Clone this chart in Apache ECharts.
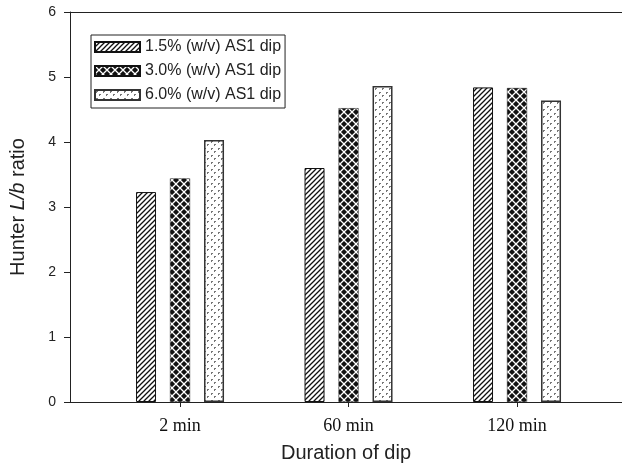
<!DOCTYPE html>
<html>
<head>
<meta charset="utf-8">
<script src="https://cdn.jsdelivr.net/npm/echarts@6/dist/echarts.min.js"></script>
<style>
  html, body { margin: 0; padding: 0; background: #fff; }
  #chart { width: 622px; height: 472px; }
</style>
</head>
<body>
<div id="chart"></div>
<script>
// duration categories sit at x = 0, 1, 2 on a value axis
const categories = ['2 min', '60 min', '120 min']
const seriesNames = ['1.5% (w/v) AS1 dip', '3.0% (w/v) AS1 dip', '6.0% (w/v) AS1 dip']
const dip15 = [3.23, 3.6, 4.84]
const dip30 = [3.44, 4.52, 4.83]
const dip60 = [4.03, 4.86, 4.64]
const yTicks = [0, 1, 2, 3, 4, 5, 6]

function makeTile(size, draw) {
  const c = document.createElement('canvas')
  c.width = size
  c.height = size
  draw(c.getContext('2d'), size)
  return { image: c, repeat: 'repeat' }
}

// diagonal hatching
const hatch = makeTile(5, (ctx, s) => {
  ctx.fillStyle = '#fff'
  ctx.fillRect(0, 0, s, s)
  ctx.strokeStyle = '#111'
  ctx.lineWidth = 1.3
  ctx.beginPath()
  ctx.moveTo(-1, s + 1); ctx.lineTo(s + 1, -1)
  ctx.moveTo(-1, 1); ctx.lineTo(1, -1)
  ctx.moveTo(s - 1, s + 1); ctx.lineTo(s + 1, s - 1)
  ctx.stroke()
})

// black with white cross lines
const cross = makeTile(8, (ctx, s) => {
  ctx.fillStyle = '#111'
  ctx.fillRect(0, 0, s, s)
  ctx.strokeStyle = '#fff'
  ctx.lineWidth = 1.3
  ctx.beginPath()
  ctx.moveTo(0, 0); ctx.lineTo(s, s)
  ctx.moveTo(s, 0); ctx.lineTo(0, s)
  ctx.stroke()
})

// sparse grey specks
const dots = makeTile(7, (ctx, s) => {
  ctx.fillStyle = '#fff'
  ctx.fillRect(0, 0, s, s)
  ctx.fillStyle = '#777'
  ctx.fillRect(1, 1, 1, 2)
  ctx.fillRect(2, 1, 1, 1)
  ctx.fillRect(4, 4, 1, 2)
  ctx.fillRect(5, 4, 1, 1)
})

const chart = echarts.init(document.getElementById('chart'))

function pairs(vals) {
  return vals.map((v, i) => [i, v])
}

chart.setOption({
  animation: false,
  backgroundColor: '#fff',
  grid: { left: 70, right: 0, top: 12, bottom: 70 },
  legend: {
    orient: 'vertical',
    left: 91,
    top: 35,
    data: seriesNames,
    icon: 'rect',
    itemWidth: 45,
    itemHeight: 10,
    itemGap: 8,
    padding: [4, 4, 5, 3],
    borderColor: '#222',
    borderWidth: 1,
    textStyle: { fontFamily: 'Liberation Sans', fontSize: 16, color: '#222' }
  },
  xAxis: [{
    type: 'value',
    min: -0.653,
    max: 2.623,
    splitLine: { show: false },
    axisLine: { onZero: false, lineStyle: { color: '#222', width: 1 } },
    axisTick: { length: 5, customValues: [0, 1, 2], lineStyle: { color: '#222' } },
    axisLabel: {
      customValues: [0, 1, 2],
      margin: 15,
      fontFamily: 'Liberation Serif',
      fontSize: 18,
      color: '#111',
      formatter: v => categories[Math.round(v)]
    },
    name: 'Duration of dip',
    nameLocation: 'middle',
    nameGap: 41,
    nameTextStyle: { fontFamily: 'Liberation Sans', fontSize: 20, color: '#222' }
  }, {
    type: 'value',
    position: 'top',
    min: -0.653,
    max: 2.623,
    splitLine: { show: false },
    axisLine: { onZero: false, lineStyle: { color: '#222', width: 1 } },
    axisTick: { show: false },
    axisLabel: { show: false }
  }],
  yAxis: {
    type: 'value',
    min: yTicks[0],
    max: yTicks[yTicks.length - 1],
    interval: 1,
    splitLine: { show: false },
    axisLine: { show: true, onZero: false, lineStyle: { color: '#222', width: 1 } },
    axisTick: { show: true, length: 6, lineStyle: { color: '#222' } },
    axisLabel: { margin: 14, fontFamily: 'Liberation Sans', fontSize: 14, color: '#222' },
    name: '{n|Hunter }{i|L/b}{n| ratio}',
    nameLocation: 'middle',
    nameGap: 42,
    nameTextStyle: {
      rich: {
        n: { fontFamily: 'Liberation Sans', fontSize: 20, color: '#222' },
        i: { fontFamily: 'Liberation Sans', fontSize: 20, color: '#222', fontStyle: 'italic' }
      }
    }
  },
  series: [{
    name: seriesNames[0],
    type: 'bar',
    barWidth: 20,
    barGap: '70%',
    data: pairs(dip15),
    itemStyle: { color: hatch, borderColor: '#111', borderWidth: 1 }
  }, {
    name: seriesNames[1],
    type: 'bar',
    barWidth: 20,
    barGap: '70%',
    data: pairs(dip30),
    itemStyle: { color: cross, borderColor: '#111', borderWidth: 0.5 }
  }, {
    name: seriesNames[2],
    type: 'bar',
    barWidth: 20,
    barGap: '70%',
    data: pairs(dip60),
    itemStyle: { color: dots, borderColor: '#333', borderWidth: 1.5 }
  }]
})
</script>
</body>
</html>
